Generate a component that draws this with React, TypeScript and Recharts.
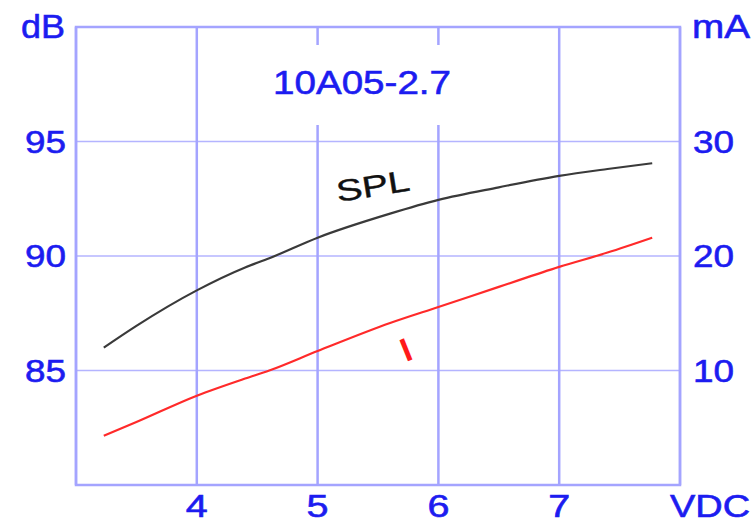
import { LineChart, Line, XAxis, YAxis, CartesianGrid, ReferenceArea } from 'recharts';

// #region Data
const volts = [3.23, 3.5, 4, 4.4, 4.6, 5, 5.6, 6, 6.5, 7, 7.4, 7.77];
const splDb = [86.0, 86.95, 88.5, 89.5, 89.9, 90.8, 91.85, 92.45, 93.0, 93.5, 93.8, 94.05];
const currentMa = [4.3, 5.5, 7.8, 9.3, 10.0, 11.7, 14.15, 15.55, 17.3, 19.05, 20.3, 21.6];

const voltTicks = [4, 5, 6, 7];
const dbTicks = [85, 90, 95];
const maTicks = [10, 20, 30];
// #endregion

const data = volts.map((v, i) => ({ v, spl: splDb[i], ma: currentMa[i] }));

const BLUE = '#1c1cf0';
const FONT = '"Liberation Sans", Arial, sans-serif';

const SideTick = (side: 'left' | 'right') => (props: any) => {
    const { x, y, payload } = props;
    return (
        <text
            x={x}
            y={y + 11}
            textAnchor={side === 'left' ? 'end' : 'start'}
            fontFamily={FONT}
            fontSize={31}
            fill={BLUE}
            stroke={BLUE}
            strokeWidth={0.6}
            textLength={41}
            lengthAdjust="spacingAndGlyphs"
        >
            {payload.value}
        </text>
    );
};

const BottomTick = (props: any) => {
    const { x, payload } = props;
    return (
        <text
            x={x - 11}
            y={517}
            fontFamily={FONT}
            fontSize={31}
            fill={BLUE}
            stroke={BLUE}
            strokeWidth={0.6}
            textLength={22}
            lengthAdjust="spacingAndGlyphs"
        >
            {payload.value}
        </text>
    );
};

export default function App() {
    return (
        <div style={{ position: 'absolute', left: 0, top: 0, width: 755, height: 524, background: '#fff' }}>
            <LineChart width={755} height={524} data={data} margin={{ top: 27, right: 0, left: 0, bottom: 0 }}>
                <CartesianGrid vertical={false} stroke="#b4b4ff" strokeWidth={1.5} yAxisId="db" />
                <CartesianGrid horizontal={false} stroke="#a4a4ff" strokeWidth={2.5} yAxisId="db" />
                <XAxis
                    dataKey="v"
                    type="number"
                    domain={[3, 8]}
                    ticks={voltTicks}
                    height={39}
                    axisLine={false}
                    tickLine={false}
                    tick={BottomTick}
                    interval={0}
                />
                <YAxis
                    yAxisId="db"
                    orientation="left"
                    type="number"
                    domain={[80, 100]}
                    ticks={dbTicks}
                    width={76}
                    axisLine={false}
                    tickLine={false}
                    tickSize={0}
                    tickMargin={10}
                    tick={SideTick('left')}
                    interval={0}
                />
                <YAxis
                    yAxisId="ma"
                    orientation="right"
                    type="number"
                    domain={[0, 40]}
                    ticks={maTicks}
                    width={75}
                    axisLine={false}
                    tickLine={false}
                    tickSize={0}
                    tickMargin={13}
                    tick={SideTick('right')}
                    interval={0}
                />
                <ReferenceArea
                    yAxisId="db"
                    x1={3}
                    x2={8}
                    y1={80}
                    y2={100}
                    fill="none"
                    stroke="#a4a4ff"
                    strokeWidth={2.5}
                />
                <Line yAxisId="db" dataKey="spl" type="monotone" stroke="#3a3a3a" strokeWidth={2.2} dot={false} isAnimationActive={false} />
                <Line yAxisId="ma" dataKey="ma" type="monotone" stroke="#ff2a2a" strokeWidth={2.2} dot={false} isAnimationActive={false} />
            </LineChart>
            <svg width={755} height={524} style={{ position: 'absolute', left: 0, top: 0, pointerEvents: 'none' }}>
                <rect x={262} y={45} width={206} height={80} fill="#fff" />
                <text x={273} y={94} fontFamily={FONT} fontSize={34} fill={BLUE} stroke={BLUE} strokeWidth={0.6} textLength={178} lengthAdjust="spacingAndGlyphs">
                    10A05-2.7
                </text>
                <text x={65} y={38} textAnchor="end" fontFamily={FONT} fontSize={34} fill={BLUE} stroke={BLUE} strokeWidth={0.6} textLength={44} lengthAdjust="spacingAndGlyphs">
                    dB
                </text>
                <text x={692} y={38} fontFamily={FONT} fontSize={34} fill={BLUE} stroke={BLUE} strokeWidth={0.6} textLength={58} lengthAdjust="spacingAndGlyphs">
                    mA
                </text>
                <text x={670} y={517} fontFamily={FONT} fontSize={31} fill={BLUE} stroke={BLUE} strokeWidth={0.6} textLength={80} lengthAdjust="spacingAndGlyphs">
                    VDC
                </text>
                <text x={338} y={202} transform="rotate(-9 338 202)" fontFamily={FONT} fontSize={30} fill="#111" stroke="#111" strokeWidth={0.4} textLength={74} lengthAdjust="spacingAndGlyphs">
                    SPL
                </text>
                <text x={406} y={362} transform="rotate(-22 406 362)" fontFamily={FONT} fontSize={33} fontWeight="bold" fill="#ff1a1a">
                    I
                </text>
            </svg>
        </div>
    );
}
